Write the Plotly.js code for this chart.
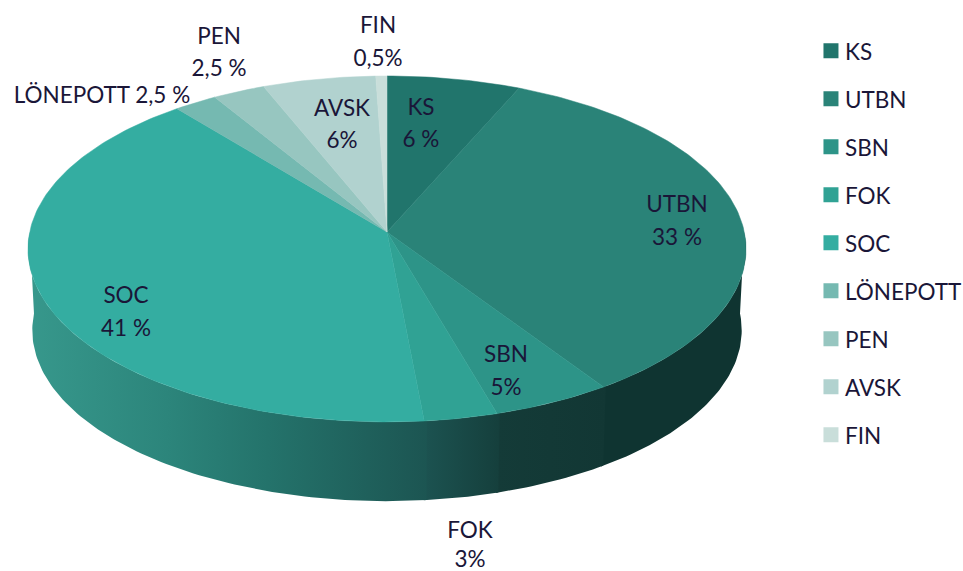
<!DOCTYPE html>
<html>
<head>
<meta charset="utf-8">
<script src="https://cdn.plot.ly/plotly-3.0.1.min.js"></script>
<style>html,body{margin:0;padding:0;background:#fff}#chart{width:963px;height:571px}</style>
</head>
<body>
<div id="chart"></div>
<script>
// Categories and the printed labels
const categories = ['KS','UTBN','SBN','FOK','SOC','LÖNEPOTT','PEN','AVSK','FIN'];
const printedValues = ['6 %','33 %','5%','3%','41 %','2,5 %','2,5 %','6%','0,5%'];
// Slice sizes as they are drawn in the picture (percent of the circle)
const sliceShares = [6.6,34.0,4.9,3.0,40.6,2.15,2.6,5.6,0.55];
// Colours
const topColors = ['#21756c','#2a8378','#2d9488','#30a294','#34ada1','#75b9b1','#97c6c0','#b1d2cf','#c9deda'];
const wallColors = [
  null,
  [[0,'#0f3431'],[1,'#0f3431']],
  [[0,'#143b38'],[1,'#123734']],
  [[0,'#1c5351'],[1,'#153f3c']],
  [[0,'#37988c'],[0.35,'#2c857b'],[0.6,'#24736b'],[1,'#1c5552']],
  null,null,null,null
];
const inkColor = '#1a1638';
const fontFamily = 'Lato, Carlito, sans-serif';
const fontSize = 22.5;
// Label anchors on the picture
const labelNameX = [421,677,506,470,126,102,219,342,378];
const labelNameY = [109,206,356,532,297,97,38,110,27];
const labelValueY = [141,239,389,561,330,null,70,142,60];
// Pie projection
const geo = {cx:387, cy:232, a:357.3, b:171.3, k:0.098, depth:81.5, baseScale:0.988};

function project(deg, s, off){
  const t = deg*Math.PI/180, x = Math.sin(t), y = Math.cos(t), w = 1/(1+geo.k*y);
  return [geo.cx + s*geo.a*x*w, geo.cy + off - s*geo.b*y*w];
}
function arc(from, to, s, off){
  const n = Math.max(2, Math.ceil(Math.abs(to-from))), pts = [];
  for(let i=0;i<=n;i++) pts.push(project(from+(to-from)*i/n, s, off));
  return pts;
}
const total = sliceShares.reduce((p,v)=>p+v,0);
let running = 0;
const spans = sliceShares.map(v=>{const a=running; running+=v; return [a/total*360, running/total*360];});

const traces = [];
// Side wall of the disc: each piece runs slightly under the next to hide seams
spans.forEach((sp,i)=>{
  if(!wallColors[i]) return;
  const from = Math.max(sp[0]-0.4,90), to = Math.min(sp[1],270);
  const pts = arc(from,to,1,0).concat(arc(to,from,geo.baseScale,geo.depth));
  pts.push(pts[0]);
  traces.push({type:'scatter',mode:'lines',x:pts.map(p=>p[0]),y:pts.map(p=>p[1]),fill:'toself',
    fillgradient:{type:'horizontal',colorscale:wallColors[i]},
    line:{width:0},showlegend:false,hoverinfo:'skip'});
});
// Top face
spans.forEach((sp,i)=>{
  const pts = [[geo.cx,geo.cy]].concat(arc(sp[0],sp[1],1,0));
  pts.push(pts[0]);
  traces.push({type:'scatter',mode:'lines',x:pts.map(p=>p[0]),y:pts.map(p=>p[1]),fill:'toself',
    fillcolor:topColors[i],line:{width:0.5,color:topColors[i]},showlegend:false,
    name:categories[i],hoverinfo:'name'});
});
// Data labels
const lblNames = categories.map((c,i)=> labelValueY[i]===null ? c+' '+printedValues[i] : c);
traces.push({type:'scatter',mode:'text',x:labelNameX,y:labelNameY,text:lblNames,textposition:'middle center',
  textfont:{family:fontFamily,size:fontSize,color:inkColor},showlegend:false,hoverinfo:'skip'});
traces.push({type:'scatter',mode:'text',x:labelNameX,y:labelValueY,text:printedValues,textposition:'middle center',
  textfont:{family:fontFamily,size:fontSize,color:inkColor},showlegend:false,hoverinfo:'skip'});
// Legend entries
categories.forEach((c,i)=>{
  traces.push({type:'scatter',mode:'markers',x:[null],y:[null],name:c,legendgroup:c,
    marker:{symbol:'square',size:15,color:topColors[i]},showlegend:true,hoverinfo:'skip'});
});

const layout = {
  width:963,height:571,margin:{l:0,r:0,t:0,b:0,autoexpand:false},
  paper_bgcolor:'#fff',plot_bgcolor:'#fff',
  xaxis:{range:[0,963],visible:false,fixedrange:true},
  yaxis:{range:[571,0],visible:false,fixedrange:true},
  showlegend:true,
  legend:{x:0.8359,y:0.948,xanchor:'left',yanchor:'top',traceorder:'grouped',tracegroupgap:15.75,
    font:{family:fontFamily,size:fontSize,color:inkColor},bgcolor:'rgba(0,0,0,0)',itemclick:false,itemdoubleclick:false}
};
Plotly.newPlot('chart',traces,layout,{displayModeBar:false,staticPlot:true}).then(()=>{
  // The reference keeps its legend swatches closer to the text
  document.querySelectorAll('#chart .legendsymbols').forEach(g=>g.setAttribute('transform','translate(6,0)'));
});
</script>
</body>
</html>
